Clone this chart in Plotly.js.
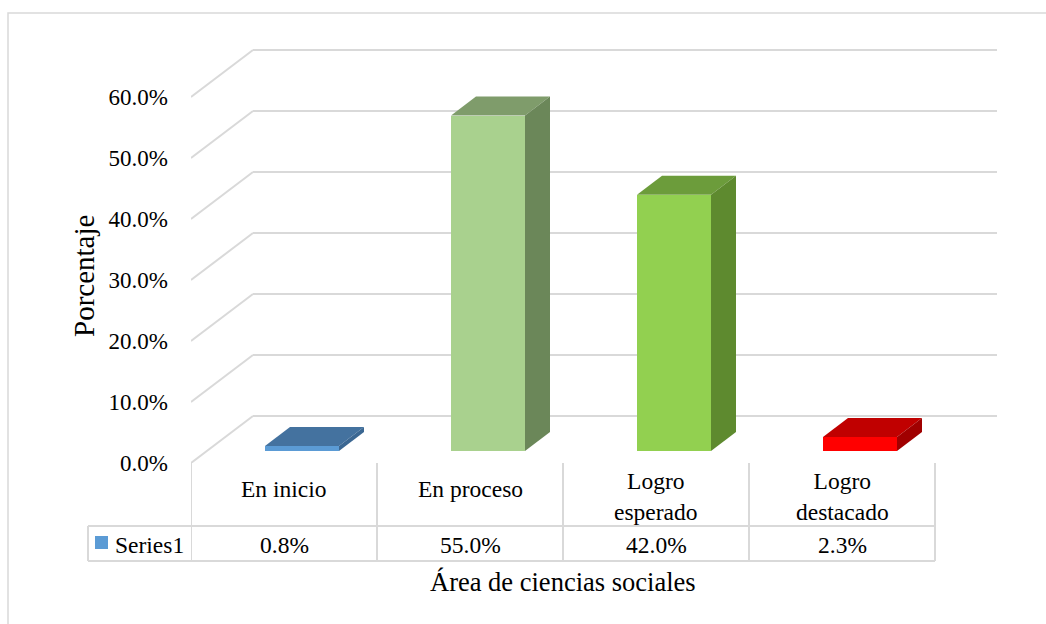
<!DOCTYPE html>
<html>
<head>
<meta charset="utf-8">
<script src="https://cdn.plot.ly/plotly-3.0.1.min.js"></script>
<style>
  html, body { margin: 0; padding: 0; background: #ffffff; }
  #chart { width: 1046px; height: 624px; }
</style>
</head>
<body>
<div id="chart"></div>
<script>
// ---------- DATA ----------
const categories = ['En inicio', 'En proceso', 'Logro esperado', 'Logro destacado'];
const categoryLabels = ['En inicio', 'En proceso', 'Logro<br>esperado', 'Logro<br>destacado'];
const values = [0.8, 55.0, 42.0, 2.3];
const seriesName = 'Series1';
const yTickValues = [0, 10, 20, 30, 40, 50, 60];
const xAxisTitle = 'Área de ciencias sociales';
const yAxisTitle = 'Porcentaje';

// ---------- STYLE ----------
const frontColors = ['#5B9BD5', '#A9D18E', '#92D050', '#FF0000'];
const topColors   = ['#44729F', '#7F9C6B', '#6C9C3B', '#C00000'];
const sideColors  = ['#3B6792', '#6B8759', '#5E8A2F', '#A00000'];
const FONT = '"Liberation Serif", "Times New Roman", Times, serif';
const GRID = '#d9d9d9';

// ---------- LAYOUT GEOMETRY (pixels) ----------
const W = 1046, H = 624;
const M = {l: 191, r: 48, t: 40, b: 161};
const plotW = W - M.l - M.r, plotH = H - M.t - M.b;
const pxPerX = 186;            // one category column
const pxPerY = 6.1;            // one percent point
const xMin = -0.5, xMax = xMin + plotW / pxPerX;
const yMax = plotH / pxPerY;

// oblique depth (axis units)
const FLOOR_DX = 62 / pxPerX, FLOOR_DY = 47 / pxPerY;
const BAR_DX = 25 / pxPerX, BAR_DY = 19 / pxPerY;
const BAR_OFF = 18 / pxPerX, BAR_W = 74 / pxPerX, BAR_BASE = 12 / pxPerY;

const paperX = px => (px - M.l) / plotW;
const paperY = py => (H - M.b - py) / plotH;

// ---------- TRACES ----------
const traces = [];
const xs = categories.map((c, i) => i + BAR_OFF);

// front faces
traces.push({
  type: 'bar', x: xs, y: values, base: values.map(() => BAR_BASE),
  width: values.map(() => BAR_W), marker: {color: frontColors, line: {width: 0}},
  name: seriesName, hoverinfo: 'skip', showlegend: false
});

values.forEach((v, i) => {
  const xl = xs[i] - BAR_W / 2, xr = xs[i] + BAR_W / 2;
  const yb = BAR_BASE, yt = BAR_BASE + v;
  // top face
  traces.push({
    type: 'scatter', mode: 'lines', fill: 'toself', fillcolor: topColors[i],
    line: {width: 0, color: topColors[i]},
    x: [xl, xr, xr + BAR_DX, xl + BAR_DX, xl],
    y: [yt, yt, yt + BAR_DY, yt + BAR_DY, yt],
    hoverinfo: 'skip', showlegend: false
  });
  // side face
  traces.push({
    type: 'scatter', mode: 'lines', fill: 'toself', fillcolor: sideColors[i],
    line: {width: 0, color: sideColors[i]},
    x: [xr, xr + BAR_DX, xr + BAR_DX, xr, xr],
    y: [yb, yb + BAR_DY, yt + BAR_DY, yt, yb],
    hoverinfo: 'skip', showlegend: false
  });
});

// ---------- SHAPES ----------
const shapes = [];
// chart border
shapes.push({type: 'rect', xref: 'paper', yref: 'paper',
  x0: paperX(8), x1: paperX(W + 20), y0: paperY(H + 20), y1: paperY(13),
  line: {color: '#d9d9d9', width: 1.5}, layer: 'below'});

// walls gridlines
yTickValues.forEach(v => {
  shapes.push({type: 'line', xref: 'x', yref: 'y', layer: 'below',
    x0: xMin, y0: v, x1: xMin + FLOOR_DX, y1: v + FLOOR_DY,
    line: {color: GRID, width: 2}});
  shapes.push({type: 'line', xref: 'x', yref: 'y', layer: 'below',
    x0: xMin + FLOOR_DX, y0: v + FLOOR_DY, x1: categories.length - 0.5 + FLOOR_DX, y1: v + FLOOR_DY,
    line: {color: GRID, width: 2}});
});

// data table lines
const tTop = 463, tMid = 526, tBot = 561, tLeft = 88;
for (let i = 0; i <= categories.length; i++) {
  shapes.push({type: 'line', xref: 'x', yref: 'paper',
    x0: i - 0.5, x1: i - 0.5, y0: paperY(tTop), y1: paperY(tBot),
    line: {color: GRID, width: 2}});
}
[tMid, tBot].forEach(py => {
  shapes.push({type: 'line', xref: 'paper', yref: 'paper',
    x0: paperX(tLeft), x1: paperX(M.l + categories.length * pxPerX), y0: paperY(py), y1: paperY(py),
    line: {color: GRID, width: 2}});
});
shapes.push({type: 'line', xref: 'paper', yref: 'paper',
  x0: paperX(tLeft), x1: paperX(tLeft), y0: paperY(tMid), y1: paperY(tBot),
  line: {color: GRID, width: 2}});
// legend key
shapes.push({type: 'rect', xref: 'paper', yref: 'paper',
  x0: paperX(95), x1: paperX(108), y0: paperY(549), y1: paperY(536),
  fillcolor: frontColors[0], line: {width: 0}});

// ---------- ANNOTATIONS ----------
const annotations = [];
const TXT = 23.5;
categoryLabels.forEach((t, i) => {
  const twoLine = t.indexOf('<br>') >= 0;
  annotations.push({xref: 'x', yref: 'paper', x: i, y: paperY(twoLine ? 497 : 489),
    text: t, showarrow: false, xanchor: 'center', yanchor: 'middle',
    font: {family: FONT, size: TXT, color: '#000'}});
  annotations.push({xref: 'x', yref: 'paper', x: i, y: paperY(545),
    text: values[i].toFixed(1) + '%', showarrow: false, xanchor: 'center', yanchor: 'middle',
    font: {family: FONT, size: TXT, color: '#000'}});
});
annotations.push({xref: 'paper', yref: 'paper', x: paperX(113), y: paperY(545),
  text: seriesName, showarrow: false, xanchor: 'left', yanchor: 'middle',
  font: {family: FONT, size: TXT, color: '#000'}});
annotations.push({xref: 'paper', yref: 'paper', x: paperX(563), y: paperY(582),
  text: xAxisTitle, showarrow: false, xanchor: 'center', yanchor: 'middle',
  font: {family: FONT, size: 26.5, color: '#000'}});
annotations.push({xref: 'paper', yref: 'paper', x: paperX(84), y: paperY(276),
  text: yAxisTitle, showarrow: false, textangle: -90, xanchor: 'center', yanchor: 'middle',
  font: {family: FONT, size: 29, color: '#000'}});

const layout = {
  width: W, height: H, margin: M,
  paper_bgcolor: '#ffffff', plot_bgcolor: 'rgba(0,0,0,0)',
  showlegend: false, hovermode: false,
  xaxis: {range: [xMin, xMax], visible: false, fixedrange: true},
  yaxis: {range: [0, yMax], tickvals: yTickValues, ticktext: yTickValues.map(v => v.toFixed(1) + '%'),
    showgrid: false, zeroline: false, showline: false, ticks: '',
    ticklabelstandoff: 22, fixedrange: true,
    tickfont: {family: FONT, size: 23, color: '#000'}},
  shapes: shapes, annotations: annotations, bargap: 0
};

Plotly.newPlot('chart', traces, layout, {displayModeBar: false, staticPlot: true});
</script>
</body>
</html>
